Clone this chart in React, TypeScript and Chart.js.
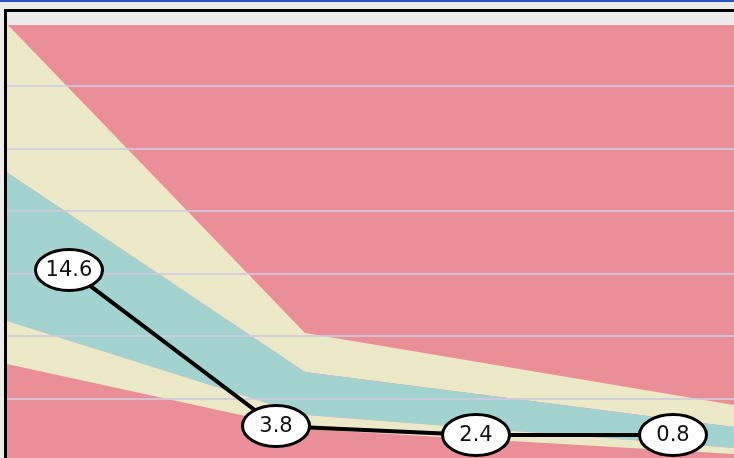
import React, { useEffect, useRef } from "react";
import { Chart, registerables } from "chart.js";

Chart.register(...registerables);

// Band boundaries (x in period units, y in chart units)
const bandX = [0, 2.98, 7.27];
const lowerBand = [15.54, 5.13, 1.12];
const innerLow = [22.43, 7.37, 2.08];
const innerHigh = [46.21, 14.26, 5.45];
const upperBand = [70, 20.5, 8.97];

// Line series
const lineX = [0.62, 2.69, 4.69, 6.66];
const lineY = [30.6, 5.61, 4.16, 4.16];
const lineLabels = ["14.6", "3.8", "2.4", "0.8"];

const gridTicks = [10, 20, 30, 40, 50, 60];

const RED = "#ea8e98";
const YELLOW = "#ebe9c8";
const TEAL = "#a3d3d1";

const pts = (xs: number[], ys: number[]) => xs.map((x, i) => ({ x, y: ys[i] }));

const labelPlugin = {
  id: "ovalLabels",
  afterDatasetsDraw(chart: any) {
    const meta = chart.getDatasetMeta(0);
    const ctx = chart.ctx;
    ctx.save();
    meta.data.forEach((el: any, i: number) => {
      const { x, y } = el.getProps(["x", "y"], true);
      ctx.beginPath();
      ctx.ellipse(x, y, 33.5, 20.5, 0, 0, Math.PI * 2);
      ctx.fillStyle = "#ffffff";
      ctx.fill();
      ctx.lineWidth = 3;
      ctx.strokeStyle = "#000000";
      ctx.stroke();
      ctx.fillStyle = "#111111";
      ctx.font = '21px "DejaVu Sans", Verdana, sans-serif';
      ctx.textAlign = "center";
      ctx.textBaseline = "middle";
      ctx.fillText(lineLabels[i], x, y + 1);
    });
    ctx.restore();
  },
};

export default function App() {
  const ref = useRef<HTMLCanvasElement | null>(null);

  useEffect(() => {
    if (!ref.current) return;
    const chart = new Chart(ref.current, {
      type: "line",
      data: {
        datasets: [
          {
            data: pts(lineX, lineY),
            borderColor: "#000000",
            borderWidth: 4,
            pointRadius: 0,
            fill: false,
            tension: 0,
          },
          {
            data: pts(bandX, lowerBand),
            borderWidth: 0,
            pointRadius: 0,
            fill: false,
          },
          {
            data: pts(bandX, innerLow),
            borderWidth: 0,
            pointRadius: 0,
            backgroundColor: YELLOW,
            fill: "-1",
          },
          {
            data: pts(bandX, innerHigh),
            borderWidth: 0,
            pointRadius: 0,
            backgroundColor: TEAL,
            fill: "-1",
          },
          {
            data: pts(bandX, upperBand),
            borderWidth: 0,
            pointRadius: 0,
            backgroundColor: YELLOW,
            fill: "-1",
          },
        ],
      } as any,
      options: {
        animation: false,
        responsive: false,
        maintainAspectRatio: false,
        layout: { padding: 0 },
        plugins: {
          legend: { display: false },
          tooltip: { enabled: false },
          filler: { drawTime: "beforeDraw" },
        } as any,
        scales: {
          x: { type: "linear", min: 0, max: 7.27, display: false },
          y: {
            type: "linear",
            min: 0,
            max: 69.84,
            ticks: { display: false, stepSize: 10 },
            border: { display: false },
            grid: { color: "rgba(208,202,222,0.85)", lineWidth: 2, drawTicks: false },
            afterFit: (s: any) => {
              s.width = 0;
            },
            afterBuildTicks: (s: any) => {
              s.ticks = gridTicks.map((v) => ({ value: v }));
            },
          } as any,
        },
      },
      plugins: [labelPlugin],
    });
    return () => chart.destroy();
  }, []);

  return (
    <div
      style={{
        position: "fixed",
        left: 0,
        top: 0,
        width: 734,
        height: 458,
        overflow: "hidden",
        background: "#ececec",
      }}
    >
      <div style={{ position: "absolute", left: 0, top: 0, width: 734, height: 2, background: "#2557c8" }} />
      <div
        style={{
          position: "absolute",
          left: 4,
          top: 9,
          width: 740,
          height: 460,
          borderTop: "3px solid #000",
          borderLeft: "3px solid #000",
          background: "#ececec",
        }}
      />
      <canvas
        ref={ref}
        width={727}
        height={436}
        style={{ position: "absolute", left: 7, top: 25, width: 727, height: 436, background: RED, display: "block" }}
      />
    </div>
  );
}
